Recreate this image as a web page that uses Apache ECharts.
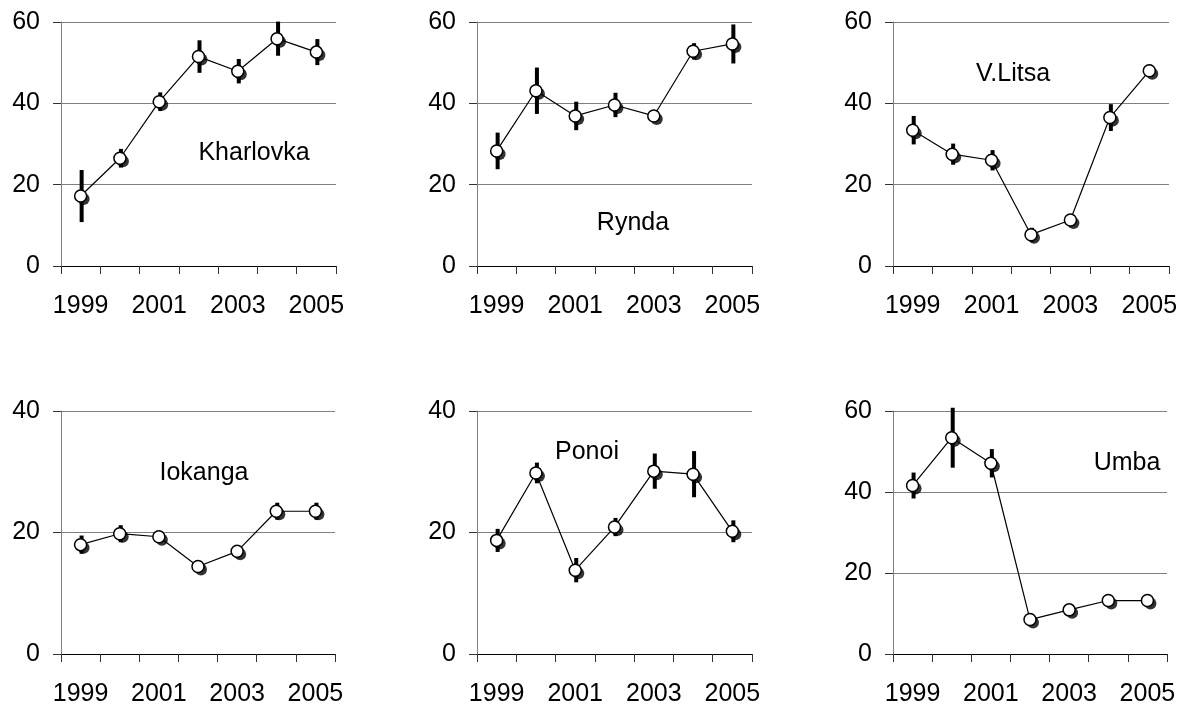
<!DOCTYPE html>
<html>
<head>
<meta charset="utf-8">
<script src="https://cdn.jsdelivr.net/npm/echarts@6/dist/echarts.min.js"></script>
<style>
html,body{margin:0;padding:0;background:#fff;}
#chart{width:1194px;height:709px;}
</style>
</head>
<body>
<div id="chart"></div>
<script>
const years = ['1999','2000','2001','2002','2003','2004','2005'];
const panelNames = ['Kharlovka','Rynda','V.Litsa','Iokanga','Ponoi','Umba'];

const kharlovkaMean = [17.2, 26.5, 40.4, 51.5, 47.9, 55.9, 52.6];
const kharlovkaErr  = [6.4, 2.3, 2.3, 4.0, 3.0, 4.2, 3.2];
const ryndaMean = [28.3, 43.1, 36.9, 39.6, 36.9, 52.8, 54.6];
const ryndaErr  = [4.5, 5.7, 3.5, 3.0, 1.3, 2.0, 4.8];
const vlitsaMean = [33.4, 27.5, 26.0, 7.7, 11.3, 36.5, 48.0];
const vlitsaErr  = [3.5, 2.6, 2.5, 1.7, 0.8, 3.3, 1.5];
const iokangaMean = [18.0, 19.8, 19.3, 14.4, 16.9, 23.5, 23.5];
const iokangaErr  = [1.5, 1.4, 0.8, 0.8, 1.0, 1.4, 1.4];
const ponoiMean = [18.7, 29.8, 13.8, 20.9, 30.1, 29.6, 20.2];
const ponoiErr  = [1.9, 1.7, 2.0, 1.5, 2.9, 3.8, 1.8];
const umbaMean = [41.6, 53.4, 47.1, 8.5, 10.9, 13.2, 13.2];
const umbaErr  = [3.2, 7.4, 3.5, 0.5, 0.5, 0.5, 0.5];

const yMaxes = [60, 60, 60, 40, 40, 60];
const yTickStep = 20;

const means = [kharlovkaMean, ryndaMean, vlitsaMean, iokangaMean, ponoiMean, umbaMean];
const errs = [kharlovkaErr, ryndaErr, vlitsaErr, iokangaErr, ponoiErr, umbaErr];

// layout
const grids = [
  {left:61, top:22, width:275, height:244},
  {left:477, top:22, width:275, height:244},
  {left:893, top:22, width:276, height:244},
  {left:61, top:411, width:274, height:243},
  {left:477, top:411, width:275, height:243},
  {left:893, top:411, width:274, height:243}
];
const namePos = [[254,153],[633,223],[1013,74],[204,473],[587,452],[1127,463]];

const FONT = '"Liberation Sans", Arial, sans-serif';

const xAxes = [], yAxes = [], series = [], graphics = [];
for (let p = 0; p < 6; p++) {
  xAxes.push({
    type:'category', gridIndex:p, data:years, boundaryGap:true,
    axisLine:{lineStyle:{color:'#000', width:1}},
    axisTick:{show:true, interval:0, length:8, lineStyle:{color:'#333', width:1}},
    axisLabel:{interval:1, margin:28, fontSize:25, fontFamily:FONT, color:'#000'},
    splitLine:{show:false}
  });
  yAxes.push({
    type:'value', gridIndex:p, min:0, max:yMaxes[p], interval:yTickStep,
    axisLine:{show:true, lineStyle:{color:'#808080', width:1}},
    axisTick:{show:true, length:8, lineStyle:{color:'#333', width:1}},
    axisLabel:{margin:21, fontSize:25, fontFamily:FONT, color:'#000'},
    splitLine:{show:true, lineStyle:{color:'#808080', width:1}}
  });
  const errData = means[p].map((m, i) => [i, m - errs[p][i], m + errs[p][i]]);
  series.push({
    type:'custom', xAxisIndex:p, yAxisIndex:p, z:2,
    data: errData,
    encode:{x:0, y:[1,2]},
    renderItem: function(params, api){
      const x = api.value(0);
      const lo = api.coord([x, api.value(1)]);
      const hi = api.coord([x, api.value(2)]);
      return {type:'line', shape:{x1:lo[0]+1, y1:lo[1], x2:hi[0]+1, y2:hi[1]},
              style:{stroke:'#000', lineWidth:4}};
    }
  });
  series.push({
    type:'scatter', xAxisIndex:p, yAxisIndex:p, z:3,
    data: means[p],
    symbol:'circle', symbolSize:12, symbolOffset:[3,3],
    itemStyle:{color:'#000'}
  });
  series.push({
    type:'line', xAxisIndex:p, yAxisIndex:p, z:4,
    data: means[p],
    symbol:'circle', symbolSize:12, showAllSymbol:true,
    lineStyle:{color:'#000', width:1.2},
    itemStyle:{color:'#fff', borderColor:'#000', borderWidth:1.5}
  });
  graphics.push({
    type:'text', x:namePos[p][0], y:namePos[p][1], z:10,
    style:{text:panelNames[p], font:'25px ' + FONT, fill:'#000', textAlign:'center', textVerticalAlign:'middle'}
  });
}

const chart = echarts.init(document.getElementById('chart'));
chart.setOption({
  animation:false,
  backgroundColor:'#fff',
  grid: grids,
  xAxis: xAxes,
  yAxis: yAxes,
  series: series,
  graphic: graphics
});
</script>
</body>
</html>
